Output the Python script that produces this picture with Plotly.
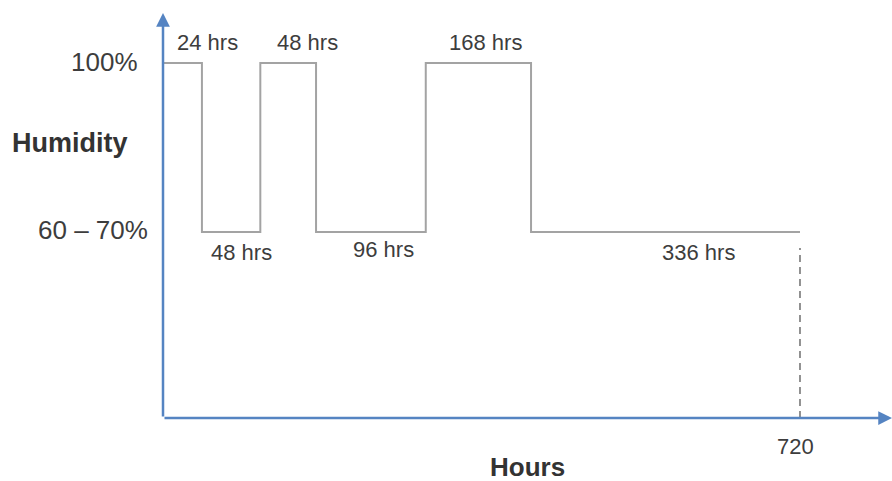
import plotly.graph_objects as go

# ---------------- data ----------------
durations_hrs = [24, 48, 48, 96, 168, 336]            # labelled duration of each phase
phase_levels = [100, 52.4, 100, 52.4, 100, 52.4]       # drawn humidity level of each phase (schematic)
step_edges_hours = [0, 44, 110, 173, 297, 416, 720]    # phase boundaries as drawn on the hours axis
level_labels = ["100%", "60 – 70%"]
level_values = [100, 52.4]
end_hour = 720
end_label = "720"
x_title = "Hours"
y_title = "Humidity"

# ---------------- styling ----------------
W, H = 892, 481
AXIS_BLUE = "#5584c2"
STEP_GREY = "#a3a3a3"
TEXT = "#3d3d3d"
FONT = "Liberation Sans, Arial, sans-serif"
X_MAX = 824.0
Y_MAX = 114.08

fig = go.Figure()

# step curve built from the phases
xs, ys = [], []
for i, lvl in enumerate(phase_levels):
    xs += [step_edges_hours[i], step_edges_hours[i + 1]]
    ys += [lvl, lvl]
fig.add_trace(go.Scatter(x=xs, y=ys, mode="lines",
                         line=dict(color=STEP_GREY, width=2),
                         hoverinfo="skip", showlegend=False))

# dashed drop line at the end
fig.add_trace(go.Scatter(x=[end_hour, end_hour], y=[0, phase_levels[-1] - 4.5], mode="lines",
                         line=dict(color="#6e6e6e", width=1.5, dash="7px,5px"),
                         hoverinfo="skip", showlegend=False))

annotations = []
# axes drawn as arrows
annotations.append(dict(x=0, y=Y_MAX, ax=0, ay=0, xref="x", yref="y", axref="x", ayref="y",
                        text="", showarrow=True, arrowhead=2, arrowsize=1.1, arrowwidth=2.5,
                        arrowcolor=AXIS_BLUE))
annotations.append(dict(x=X_MAX, y=0, ax=0, ay=0, xref="x", yref="y", axref="x", ayref="y",
                        text="", showarrow=True, arrowhead=2, arrowsize=1.1, arrowwidth=2.5,
                        arrowcolor=AXIS_BLUE))

# phase duration labels
label_xshift = [25, 10, 19, 13, 7, 33]
for i, (d, lvl) in enumerate(zip(durations_hrs, phase_levels)):
    mid = (step_edges_hours[i] + step_edges_hours[i + 1]) / 2
    up = lvl >= 100
    annotations.append(dict(x=mid, y=lvl, xref="x", yref="y", text=f"{d} hrs",
                            showarrow=False, xanchor="center", yanchor="middle",
                            xshift=label_xshift[i], yshift=20 if up else (-18 if i == 3 else -21),
                            font=dict(family=FONT, size=22, color=TEXT)))

# level labels
for lab, val, xs_ in zip(level_labels, level_values, [-23, -13]):
    annotations.append(dict(x=0, y=val, xref="x", yref="y", text=lab, showarrow=False,
                            xanchor="right", yanchor="middle", xshift=xs_, yshift=1 if val >= 100 else 2,
                            font=dict(family=FONT, size=26, color=TEXT)))

# end tick label
annotations.append(dict(x=end_hour, y=0, xref="x", yref="y", text=end_label, showarrow=False,
                        xanchor="center", yanchor="middle", xshift=-4, yshift=-28,
                        font=dict(family=FONT, size=22, color=TEXT)))

# titles
annotations.append(dict(x=0.5, y=0, xref="paper", yref="paper", text=f"<b>{x_title}</b>",
                        showarrow=False, xanchor="center", yanchor="middle", yshift=-49,
                        font=dict(family=FONT, size=26, color="#333333")))
annotations.append(dict(x=0, y=0.679, xref="x", yref="paper", text=f"<b>{y_title}</b>",
                        showarrow=False, xanchor="center", yanchor="middle", xshift=-93,
                        font=dict(family=FONT, size=27, color="#333333")))

fig.update_layout(
    width=W, height=H,
    margin=dict(l=163, r=0, t=13, b=63),
    paper_bgcolor="white", plot_bgcolor="white",
    xaxis=dict(range=[0, X_MAX], visible=False, fixedrange=True),
    yaxis=dict(range=[0, Y_MAX], visible=False, fixedrange=True),
    annotations=annotations,
    showlegend=False,
)

fig.write_html(
    "out.html",
    config={"displayModeBar": False},
    post_script="document.body.style.margin='0';document.body.style.overflow='hidden';",
)
